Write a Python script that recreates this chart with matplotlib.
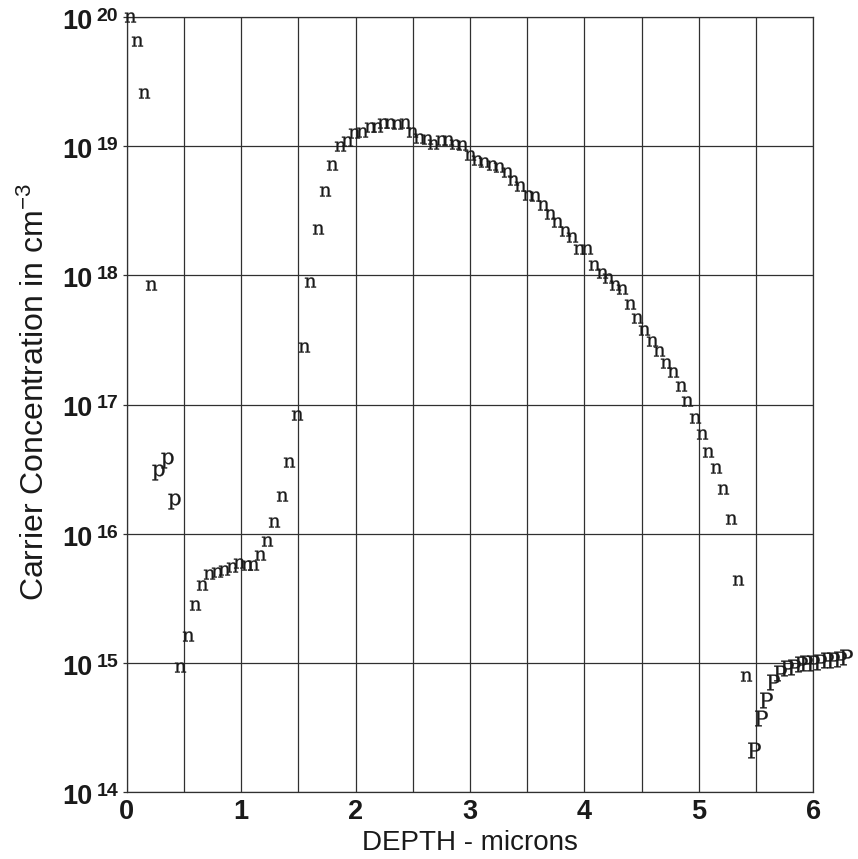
import matplotlib
matplotlib.use('Agg')
import matplotlib.pyplot as plt
import matplotlib.transforms as mtransforms
from matplotlib.textpath import TextPath
from matplotlib.font_manager import FontProperties
from matplotlib.transforms import Affine2D

# n-type carrier points (depth in microns, concentration in cm^-3)
n_depth = [0.03, 0.09, 0.154, 0.213, 0.466, 0.533, 0.598, 0.662, 0.722, 0.787,
           0.85, 0.918, 0.98, 1.049, 1.10, 1.165, 1.229, 1.29, 1.355, 1.419,
           1.486, 1.55, 1.60, 1.67, 1.73, 1.797, 1.86, 1.925, 1.99, 2.054,
           2.127, 2.185, 2.243, 2.30, 2.36, 2.43, 2.49, 2.55, 2.62, 2.68,
           2.75, 2.81, 2.87, 2.93, 3.00, 3.06, 3.12, 3.19, 3.25, 3.32,
           3.38, 3.44, 3.51, 3.57, 3.64, 3.70, 3.76, 3.83, 3.89, 3.95,
           4.02, 4.08, 4.15, 4.21, 4.27, 4.33, 4.40, 4.46, 4.52, 4.59,
           4.65, 4.71, 4.77, 4.84, 4.90, 4.97, 5.03, 5.08, 5.15, 5.21,
           5.28, 5.34, 5.41]
n_conc = [1.0e20, 6.5e19, 2.6e19, 8.5e17, 9.3e14, 1.6e15, 2.8e15, 4.0e15, 4.9e15, 5.0e15,
          5.2e15, 5.5e15, 5.9e15, 5.75e15, 5.75e15, 6.8e15, 8.7e15, 1.23e16, 1.95e16, 3.6e16,
          8.3e16, 2.8e17, 8.9e17, 2.3e18, 4.5e18, 7.2e18, 1.0e19, 1.1e19, 1.26e19, 1.29e19,
          1.41e19, 1.41e19, 1.51e19, 1.51e19, 1.48e19, 1.51e19, 1.29e19, 1.17e19, 1.15e19, 1.05e19,
          1.12e19, 1.12e19, 1.05e19, 1.02e19, 8.5e18, 7.8e18, 7.6e18, 7.2e18, 6.9e18, 6.3e18,
          5.5e18, 4.9e18, 4.2e18, 4.1e18, 3.5e18, 3.0e18, 2.6e18, 2.2e18, 2.0e18, 1.6e18,
          1.6e18, 1.2e18, 1.05e18, 9.5e17, 8.5e17, 7.8e17, 6.0e17, 4.7e17, 3.8e17, 3.1e17,
          2.6e17, 2.1e17, 1.8e17, 1.4e17, 1.07e17, 7.9e16, 5.9e16, 4.3e16, 3.2e16, 2.2e16,
          1.3e16, 4.4e15, 7.9e14]

# p-type points near the surface (lowercase p)
p_depth = [0.276, 0.35, 0.41]
p_conc = [3.0e16, 3.7e16, 1.8e16]

# p-type substrate points (uppercase P)
sub_depth = [5.48, 5.54, 5.59, 5.65, 5.71, 5.77, 5.83, 5.89, 5.94, 6.00,
             6.06, 6.12, 6.17, 6.23, 6.29]
sub_conc = [2.1e14, 3.7e14, 5.1e14, 7.1e14, 8.3e14, 9.1e14, 9.3e14, 9.8e14, 1.0e15, 1.0e15,
            1.02e15, 1.05e15, 1.05e15, 1.07e15, 1.1e15]

decades = [14, 15, 16, 17, 18, 19, 20]
x_ticks = [0, 1, 2, 3, 4, 5, 6]

plt.rcParams['font.family'] = ['Liberation Sans', 'DejaVu Sans']
plt.rcParams['mathtext.fontset'] = 'custom'
plt.rcParams['mathtext.rm'] = 'Liberation Sans'
plt.rcParams['mathtext.it'] = 'Liberation Sans:italic'
plt.rcParams['mathtext.bf'] = 'Liberation Sans:bold'

ink = '#1a1a1a'
glyph_font = FontProperties(family='DejaVu Serif')
glyph_pt = 15.5


def letter_marker(ch):
    # centred glyph outline, plus the size that keeps it at glyph_pt
    p = TextPath((0, 0), ch, size=1, prop=glyph_font)
    ext = p.get_extents()
    p = p.transformed(Affine2D().translate(-(ext.x0 + ext.x1) / 2, -(ext.y0 + ext.y1) / 2))
    return p, glyph_pt * max(ext.width, ext.height)


W, H = 858, 859
fig = plt.figure(figsize=(W / 100, H / 100), dpi=100)
ax = fig.add_axes([126.7 / W, 1 - 791.7 / H, 686.6 / W, 774.4 / H])

ax.set_yscale('log')
ax.set_xlim(0, 6)
ax.set_ylim(1e14, 1e20)

for xs, ys, ch in [(n_depth, n_conc, 'n'), (p_depth, p_conc, 'p'), (sub_depth, sub_conc, 'P')]:
    path, ms = letter_marker(ch)
    ax.plot(xs, ys, linestyle='none', marker=path, markersize=ms,
            color=ink, markeredgewidth=0.2, clip_on=False, zorder=3)

# grid
ax.set_xticks([v * 0.5 for v in range(13)], minor=True)
ax.set_xticks(x_ticks)
ax.set_yticks([10.0 ** d for d in decades])
ax.yaxis.set_minor_locator(matplotlib.ticker.NullLocator())
ax.grid(True, which='both', axis='x', color='#303030', linewidth=0.9)
ax.grid(True, which='major', axis='y', color='#303030', linewidth=0.9)
ax.set_axisbelow(True)
for s in ax.spines.values():
    s.set_color('#303030')
    s.set_linewidth(0.9)

ax.set_xticklabels([str(v) for v in x_ticks], fontsize=19.5, fontweight='bold', color=ink)
ax.tick_params(axis='x', which='both', length=0, pad=5)
ax.tick_params(axis='y', which='major', length=3, width=0.9, color='#303030')
ax.set_yticklabels([])

# y tick labels drawn as "10" plus a raised exponent
blend = mtransforms.blended_transform_factory(ax.transAxes, ax.transData)
for d in decades:
    t_base = mtransforms.offset_copy(blend, fig=fig, x=-34, y=-12, units='dots')
    t_exp = mtransforms.offset_copy(blend, fig=fig, x=-30, y=-4, units='dots')
    ax.text(0, 10.0 ** d, '10', transform=t_base, ha='right', va='baseline',
            fontsize=19.5, fontweight='bold', color=ink, clip_on=False)
    ax.text(0, 10.0 ** d, str(d), transform=t_exp, ha='left', va='baseline',
            fontsize=14, fontweight='bold', color=ink, clip_on=False)

fig.text(470 / W, 1 - 850 / H, 'DEPTH - microns', ha='center', va='baseline',
         fontsize=20, color=ink)
fig.text(35 / W, 1 - 392 / H, 'Carrier Concentration in cm$^{-3}$', rotation=90,
         ha='center', va='center', fontsize=23, color=ink)

fig.savefig('out.png', dpi=100)
